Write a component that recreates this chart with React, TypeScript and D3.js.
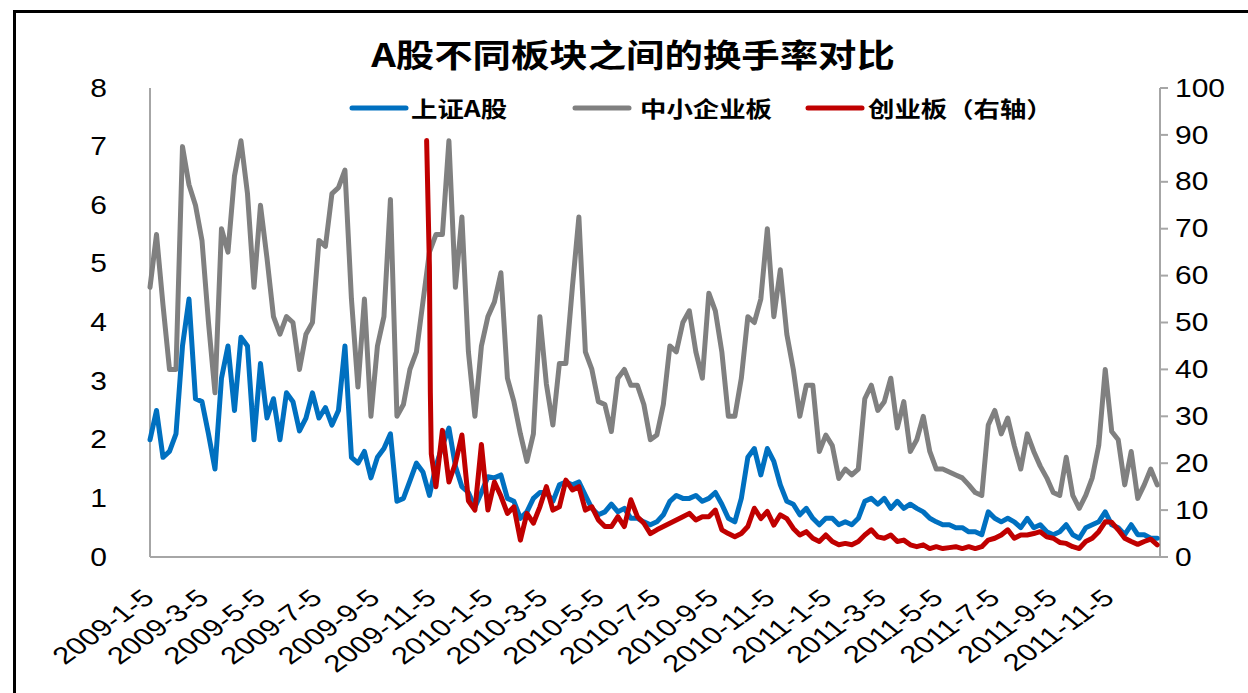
import React from 'react';
import * as d3 from 'd3';

// Weekly turnover readings (%), one value per week starting on WEEK_ORIGIN
const WEEK_ORIGIN = '2009-01-05';

// 上证A股 (left axis)
const shanghaiA = [
  2.0, 2.5, 1.7, 1.8, 2.1, 3.6, 4.4, 2.7, 2.65, 2.1,
  1.5, 3.05, 3.6, 2.5, 3.75, 3.6, 2.0, 3.3, 2.37, 2.7,
  2.0, 2.8, 2.65, 2.15, 2.37, 2.8, 2.37, 2.55, 2.25, 2.5,
  3.6, 1.7, 1.6, 1.8, 1.35, 1.7, 1.85, 2.1, 0.95, 1.0,
  1.3, 1.6, 1.45, 1.05, 1.55, 1.9, 2.2, 1.55, 1.2, 1.1,
  0.85, 1.1, 1.37, 1.35, 1.4, 1.0, 0.95, 0.66, 0.77, 1.0,
  1.1, 1.1, 0.95, 1.23, 1.28, 1.23, 1.28, 1.05, 0.83, 0.72,
  0.77, 0.9, 0.77, 0.83, 0.66, 0.66, 0.6, 0.55, 0.6, 0.72,
  0.95, 1.05, 1.0, 1.0, 1.05, 0.95, 1.0, 1.1, 0.9, 0.66,
  0.6, 1.0, 1.7, 1.85, 1.4, 1.85, 1.63, 1.23, 0.95, 0.9,
  0.72, 0.83, 0.66, 0.55, 0.66, 0.66, 0.55, 0.6, 0.55, 0.66,
  0.95, 1.0, 0.9, 1.0, 0.83, 0.95, 0.83, 0.9, 0.83, 0.77,
  0.66, 0.6, 0.55, 0.55, 0.5, 0.5, 0.43, 0.43, 0.38, 0.77,
  0.66, 0.6, 0.66, 0.6, 0.5, 0.66, 0.5, 0.55, 0.43, 0.38,
  0.43, 0.55, 0.38, 0.32, 0.5, 0.55, 0.6, 0.77, 0.55, 0.5,
  0.38, 0.55, 0.38, 0.38, 0.32, 0.32,
];

// 中小企业板 (left axis)
const smeBoard = [
  4.6, 5.5, 4.3, 3.2, 3.2, 7.0, 6.35, 6.0, 5.4, 4.0,
  2.8, 5.6, 5.2, 6.5, 7.1, 6.2, 4.6, 6.0, 5.1, 4.1,
  3.8, 4.1, 4.0, 3.2, 3.8, 4.0, 5.4, 5.3, 6.2, 6.3,
  6.6, 4.4, 2.9, 4.4, 2.4, 3.6, 4.1, 6.1, 2.4, 2.6,
  3.2, 3.5, 4.35, 5.2, 5.5, 5.5, 7.1, 4.6, 5.8, 3.5,
  2.4, 3.6, 4.1, 4.35, 4.85, 3.05, 2.65, 2.1, 1.63, 2.1,
  4.1, 2.95, 2.25, 3.3, 3.3, 4.6, 5.8, 3.5, 3.2, 2.65,
  2.6, 2.14, 3.05, 3.2, 2.93, 2.93, 2.6, 2.0, 2.08, 2.6,
  3.6, 3.5, 4.0, 4.2, 3.5, 3.05, 4.5, 4.2, 3.5, 2.4,
  2.4, 3.05, 4.1, 4.0, 4.4, 5.6, 4.1, 4.9, 3.8, 3.2,
  2.4, 2.93, 2.93, 1.8, 2.08, 1.9, 1.34, 1.5, 1.4, 1.5,
  2.7, 2.93, 2.5, 2.65, 3.05, 2.2, 2.65, 1.8, 2.0, 2.4,
  1.8, 1.5, 1.5, 1.45, 1.4, 1.35, 1.23, 1.1, 1.05, 2.25,
  2.5, 2.1, 2.37, 1.9, 1.5, 2.1, 1.8, 1.55, 1.35, 1.1,
  1.05, 1.7, 1.05, 0.83, 1.05, 1.35, 1.9, 3.2, 2.14, 2.0,
  1.23, 1.8, 1.0, 1.23, 1.5, 1.23,
];

// 创业板 (right axis): first trading days after launch, then weekly from week 44
const chinextLaunchDays: [string, number][] = [
  ['2009-10-30', 88.8],
  ['2009-11-02', 62],
  ['2009-11-03', 35],
  ['2009-11-04', 22],
];
const CHINEXT_FIRST_WEEK = 44;
const chinextWeekly = [
  15, 27, 16, 20, 26, 12, 10, 24, 10, 16,
  13, 9.3, 10.7, 3.6, 9.3, 7.2, 10.7, 15, 10, 10.7,
  16.4, 14.3, 15, 10, 10.7, 7.9, 6.5, 6.5, 8.6, 6.5,
  12.2, 8.6, 7.2, 5.0, 5.8, 6.5, 7.2, 7.9, 8.6, 9.3,
  7.9, 8.6, 8.6, 10, 5.8, 5.0, 4.3, 5.0, 6.5, 10.4,
  8.2, 9.7, 6.8, 9.0, 8.2, 6.1, 4.7, 5.4, 4.0, 3.3,
  4.7, 3.3, 2.6, 2.9, 2.6, 3.3, 4.7, 5.8, 4.3, 4.0,
  4.7, 3.3, 3.6, 2.6, 2.2, 2.6, 1.8, 2.2, 1.8, 2.0,
  2.2, 1.8, 2.2, 1.8, 2.2, 3.6, 4.0, 4.7, 5.8, 4.0,
  4.7, 4.7, 5.0, 5.4, 4.3, 4.0, 3.1, 2.9, 2.2, 1.8,
  3.3, 4.0, 5.4, 7.5, 7.4, 5.8, 4.0, 3.3, 2.7, 3.3,
  3.8, 2.6,
];

const xTickLabels = [
  '2009-1-5', '2009-3-5', '2009-5-5', '2009-7-5', '2009-9-5', '2009-11-5',
  '2010-1-5', '2010-3-5', '2010-5-5', '2010-7-5', '2010-9-5', '2010-11-5',
  '2011-1-5', '2011-3-5', '2011-5-5', '2011-7-5', '2011-9-5', '2011-11-5',
];
const leftTicks = [0, 1, 2, 3, 4, 5, 6, 7, 8];
const rightTicks = [0, 10, 20, 30, 40, 50, 60, 70, 80, 90, 100];

const TITLE = 'A股不同板块之间的换手率对比';
const LEGEND = [
  { label: '上证A股', color: '#0070C0' },
  { label: '中小企业板', color: '#808080' },
  { label: '创业板（右轴）', color: '#C00000' },
];

const toDate = (s: string) => {
  const [y, m, d] = s.split('-').map(Number);
  return new Date(y, m - 1, d);
};
const weekDate = (i: number) => d3.timeDay.offset(toDate(WEEK_ORIGIN), 7 * i);

type Pt = { date: Date; value: number };

export default function App() {
  const W = 1248;
  const H = 693;
  const plot = { left: 150, right: 1160, top: 88, bottom: 557 };
  const SX = 1.2; // horizontal text stretch
  const cjk = '"Noto Sans CJK SC", "Noto Sans", sans-serif';
  const latin = '"Liberation Sans", Arial, sans-serif';

  const x = d3
    .scaleTime()
    .domain([toDate(WEEK_ORIGIN), d3.timeDay.offset(weekDate(smeBoard.length - 1), 3)])
    .range([plot.left, plot.right]);
  const yL = d3.scaleLinear().domain([0, 8]).range([plot.bottom, plot.top]);
  const yR = d3.scaleLinear().domain([0, 100]).range([plot.bottom, plot.top]);

  const blueData: Pt[] = shanghaiA.map((v, i) => ({ date: weekDate(i), value: v }));
  const grayData: Pt[] = smeBoard.map((v, i) => ({ date: weekDate(i), value: v }));
  const redData: Pt[] = [
    ...chinextLaunchDays.map(([d, v]) => ({ date: toDate(d), value: v })),
    ...chinextWeekly.map((v, i) => ({ date: weekDate(CHINEXT_FIRST_WEEK + i), value: v })),
  ];

  const lineL = d3.line<Pt>().x((d) => x(d.date)).y((d) => yL(d.value));
  const lineR = d3.line<Pt>().x((d) => x(d.date)).y((d) => yR(d.value));

  const axisColor = '#A6A6A6';
  const legendLineX = [352, 575, 808];
  const legendTextX = [411, 640, 868];

  return (
    <svg
      width={W}
      height={H}
      style={{ position: 'absolute', left: 0, top: 0, background: '#fff' }}
    >
      <rect x={0} y={0} width={W} height={H} fill="#fff" />
      {/* outer frame */}
      <rect x={14.5} y={11.5} width={1400} height={900} fill="none" stroke="#000" strokeWidth={3} />

      {/* title */}
      <text
        transform={`translate(633,67) scale(${SX},1)`}
        textAnchor="middle"
        fontFamily={cjk}
        fontWeight={700}
        fontSize={32}
        fill="#000"
      >
        {TITLE}
      </text>

      {/* axes */}
      <line x1={plot.left} x2={plot.left} y1={plot.top} y2={plot.bottom} stroke={axisColor} strokeWidth={2} />
      <line x1={plot.left} x2={plot.right} y1={plot.bottom} y2={plot.bottom} stroke={axisColor} strokeWidth={2} />
      <line x1={plot.right} x2={plot.right} y1={plot.top} y2={plot.bottom} stroke={axisColor} strokeWidth={2} />
      {rightTicks.map((t) => (
        <line key={`rt${t}`} x1={plot.right} x2={plot.right + 8} y1={yR(t)} y2={yR(t)} stroke={axisColor} strokeWidth={2} />
      ))}

      {leftTicks.map((t) => (
        <text
          key={`lt${t}`}
          transform={`translate(107,${yL(t)}) scale(${SX},1)`}
          textAnchor="end"
          dominantBaseline="central"
          fontFamily={latin}
          fontSize={25}
          fill="#000"
        >
          {t}
        </text>
      ))}
      {rightTicks.map((t) => (
        <text
          key={`rl${t}`}
          transform={`translate(1175,${yR(t)}) scale(${SX},1)`}
          textAnchor="start"
          dominantBaseline="central"
          fontFamily={latin}
          fontSize={25}
          fill="#000"
        >
          {t}
        </text>
      ))}

      {xTickLabels.map((lab) => (
        <text
          key={lab}
          transform={`translate(${x(toDate(lab)) + 6},600) scale(1.3,1) rotate(-43)`}
          textAnchor="end"
          fontFamily={latin}
          fontSize={24}
          fill="#000"
        >
          {lab}
        </text>
      ))}

      {/* series */}
      <g fill="none" strokeWidth={5} strokeLinejoin="round" strokeLinecap="round">
        <path d={lineL(grayData) ?? ''} stroke="#808080" />
        <path d={lineL(blueData) ?? ''} stroke="#0070C0" />
        <path d={lineR(redData) ?? ''} stroke="#C00000" />
      </g>

      {/* legend */}
      {LEGEND.map((item, k) => (
        <g key={item.label}>
          <line
            x1={legendLineX[k]}
            x2={legendLineX[k] + 54}
            y1={108}
            y2={108}
            stroke={item.color}
            strokeWidth={5}
            strokeLinecap="round"
          />
          <text
            transform={`translate(${legendTextX[k]},117) scale(${SX},1)`}
            fontFamily={cjk}
            fontWeight={700}
            fontSize={22}
            fill="#000"
          >
            {item.label}
          </text>
        </g>
      ))}
    </svg>
  );
}
